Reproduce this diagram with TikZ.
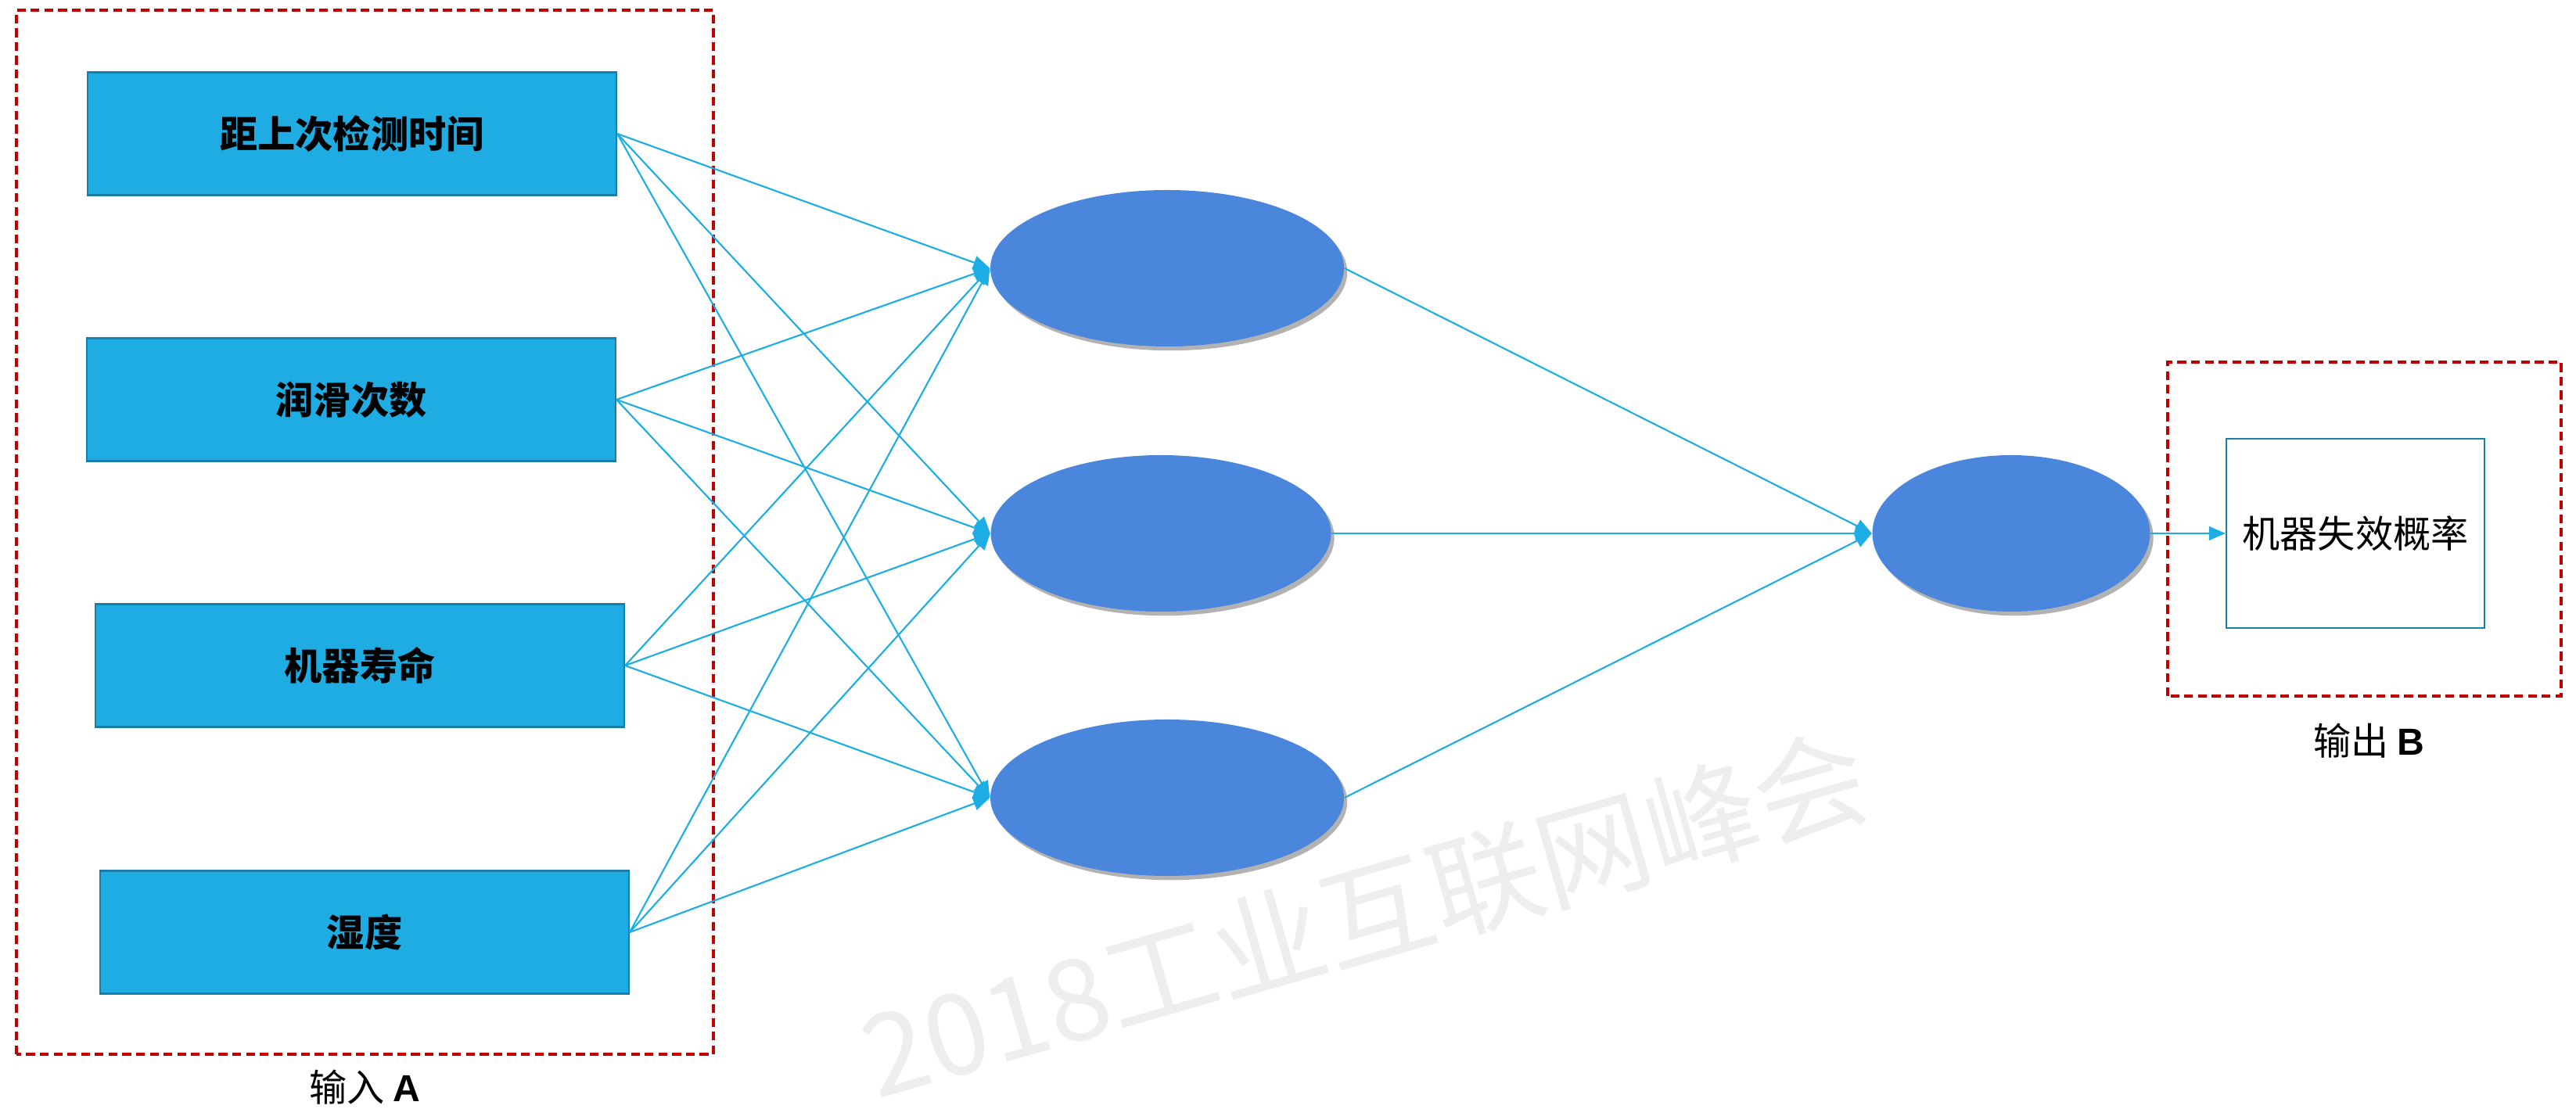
\documentclass[tikz,border=0pt]{standalone}
\usepackage{fontspec}
\usepackage{xcolor}
\usetikzlibrary{arrows.meta, shapes.geometric, shadows}
\newfontfamily\cjk{Noto Sans CJK SC}
\setsansfont{Liberation Sans}

\definecolor{inblue}{HTML}{1FACE2}
\definecolor{inedge}{HTML}{1A7FA8}
\definecolor{nodeblue}{HTML}{4A86DC}
\definecolor{wireblue}{HTML}{1BADE3}
\definecolor{framered}{HTML}{C00000}
\definecolor{markgray}{HTML}{EEEEEE}

\begin{document}
\begin{tikzpicture}[
    inbox/.style={rectangle, draw=inedge, line width=0.6pt, fill=inblue, minimum width=6.76cm, minimum height=1.57cm, inner sep=0pt, font=\cjk\bfseries\fontsize{13.7}{16}\selectfont},
    neuron/.style={ellipse, fill=nodeblue, minimum height=2cm, inner sep=0pt, drop shadow={shadow xshift=1.2pt, shadow yshift=-1.5pt, fill=black!60, opacity=0.5}},
    wire/.style={wireblue, line width=0.6pt, -{Triangle[length=6pt,width=5pt]}},
    redframe/.style={framered, line width=0.9pt, dash pattern=on 3.2pt off 1.8pt},
    framelabel/.style={font=\cjk\fontsize{13.7}{16}\selectfont}
]
\useasboundingbox (0,0) rectangle (32.93,14.18);

% Watermark
\node[text=markgray, rotate=16, font=\cjk\fontsize{41}{48}\selectfont] (mark) at (17.45,2.48) {2018工业互联网峰会};

% Input layer
\foreach \i/\x/\y/\txt in {1/4.50/12.47/距上次检测时间, 2/4.49/9.07/润滑次数, 3/4.60/5.67/机器寿命, 4/4.66/2.26/湿度} {
    \node[inbox] (in\i) at (\x,\y) {\txt};
}
\draw[redframe] (0.21,0.70) rectangle (9.12,14.05);
\node[framelabel] (labA) at (4.66,0.28) {输入 \textsf{\bfseries A}};

% Hidden layer
\node[neuron, minimum width=4.52cm] (hid1) at (14.92,10.75) {};
\node[neuron, minimum width=4.35cm] (hid2) at (14.84,7.36) {};
\node[neuron, minimum width=4.52cm] (hid3) at (14.92,3.98) {};

% Output layer
\node[neuron, minimum width=3.55cm] (out) at (25.71,7.36) {};
\node[rectangle, draw=inedge, line width=0.6pt, fill=white, minimum width=3.30cm, minimum height=2.42cm, inner sep=0pt, font=\cjk\fontsize{13.7}{16}\selectfont] (res) at (30.11,7.36) {机器失效概率};
\draw[redframe] (27.71,5.28) rectangle (32.74,9.55);
\node[framelabel] (labB) at (30.28,4.71) {输出 \textsf{\bfseries B}};

% Connections
\foreach \i in {1,2,3,4} {
    \foreach \j in {1,2,3} {
        \draw[wire] (in\i.east) -- (hid\j.west);
    }
}
\foreach \j in {1,2,3} {
    \draw[wire] (hid\j.east) -- (out.west);
}
\draw[wire] (out.east) -- (res.west);
\end{tikzpicture}
\end{document}
